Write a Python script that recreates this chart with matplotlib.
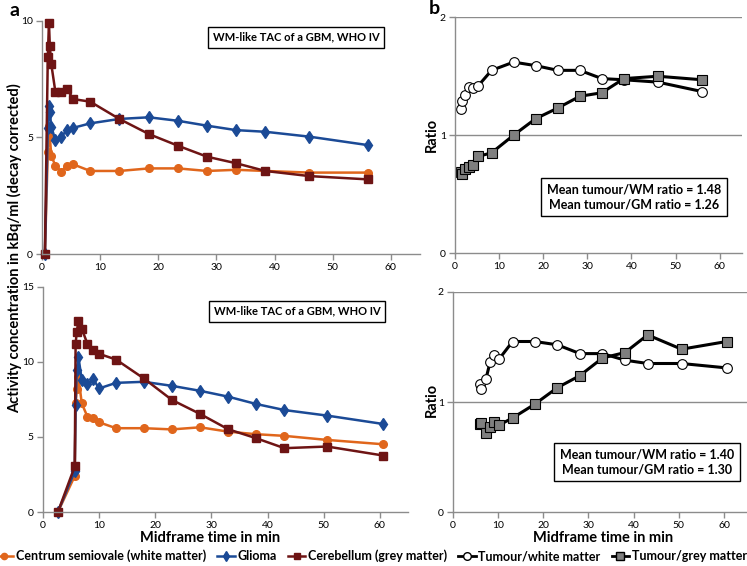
import matplotlib
matplotlib.use("Agg")
import matplotlib.pyplot as plt
from matplotlib.lines import Line2D

plt.rcParams['font.family'] = ['Lato', 'DejaVu Sans']

# top row (panel a / b, first patient)
time_top = [0.5, 1.0, 1.2, 1.35, 1.6, 2.3, 3.3, 4.3, 5.4, 8.3, 13.3, 18.4, 23.4, 28.4, 33.4, 38.4, 46.0, 56.0]
wm_top = [0, 4.36, 5.49, 5.03, 4.21, 3.79, 3.53, 3.79, 3.84, 3.56, 3.56, 3.67, 3.67, 3.56, 3.61, 3.56, 3.49, 3.49]
glioma_top = [0, 5.40, 6.36, 6.10, 5.45, 4.89, 5.03, 5.31, 5.41, 5.60, 5.79, 5.86, 5.71, 5.50, 5.31, 5.24, 5.03, 4.67]
gm_top = [0, 8.46, 9.91, 8.91, 8.14, 6.96, 6.96, 7.06, 6.64, 6.53, 5.79, 5.14, 4.64, 4.17, 3.89, 3.56, 3.34, 3.20]

ratio_time_top = [1.3, 1.5, 2.3, 3.2, 4.2, 5.3, 8.3, 13.3, 18.3, 23.3, 28.3, 33.3, 38.3, 46.0, 56.0]
t_wm_top = [1.22, 1.29, 1.34, 1.41, 1.40, 1.42, 1.55, 1.62, 1.59, 1.55, 1.55, 1.48, 1.47, 1.45, 1.37]
t_gm_top = [0.69, 0.67, 0.71, 0.73, 0.75, 0.82, 0.85, 1.00, 1.14, 1.23, 1.33, 1.36, 1.48, 1.50, 1.47]

# bottom row (second patient)
time_bot = [2.7, 5.7, 5.85, 6.05, 6.35, 6.95, 7.95, 9.0, 10.05, 13.05, 18.0, 23.0, 28.0, 33.0, 38.0, 43.0, 50.6, 60.6]
wm_bot = [0, 2.40, 7.23, 8.16, 9.00, 7.23, 6.35, 6.24, 5.97, 5.58, 5.58, 5.50, 5.64, 5.35, 5.18, 5.07, 4.80, 4.51]
glioma_bot = [0, 2.73, 7.10, 9.45, 10.33, 8.78, 8.50, 8.83, 8.23, 8.60, 8.67, 8.40, 8.07, 7.68, 7.19, 6.79, 6.42, 5.86]
gm_bot = [0, 3.04, 11.20, 11.97, 12.75, 12.20, 11.20, 10.80, 10.53, 10.15, 8.89, 7.46, 6.53, 5.51, 4.91, 4.25, 4.36, 3.76]

ratio_time_bot = [6.0, 6.3, 7.3, 8.2, 9.1, 10.2, 13.2, 18.1, 23.1, 28.1, 33.1, 38.1, 43.1, 50.6, 60.6]
t_wm_bot = [1.16, 1.12, 1.21, 1.36, 1.43, 1.39, 1.55, 1.55, 1.52, 1.44, 1.44, 1.38, 1.35, 1.35, 1.31]
t_gm_bot = [0.80, 0.81, 0.72, 0.77, 0.82, 0.79, 0.855, 0.98, 1.13, 1.24, 1.40, 1.45, 1.61, 1.48, 1.55]

tac_title = "WM-like TAC of a GBM, WHO IV"
ratio_text_top = "Mean tumour/WM ratio = 1.48\nMean tumour/GM ratio = 1.26"
ratio_text_bot = "Mean tumour/WM ratio = 1.40\nMean tumour/GM ratio = 1.30"

ORANGE = '#E0661C'
BLUE = '#1B4A96'
DARKRED = '#6E1414'
AXIS_GREY = '#8C8C8C'


def style_axes(ax, ymax, yticks):
    ax.set_xlim(0, 65)
    ax.set_ylim(0, ymax)
    ax.set_xticks(range(0, 61, 10))
    ax.set_yticks(yticks)
    for side in ('top', 'right'):
        ax.spines[side].set_visible(False)
    for side in ('left', 'bottom'):
        ax.spines[side].set_color(AXIS_GREY)
        ax.spines[side].set_linewidth(1.0)
    ax.tick_params(direction='out', length=4, width=1, color=AXIS_GREY,
                   labelsize=7.5, pad=2.5)


def plot_tac(ax, t, wm, gl, gm, ymax, yticks):
    ax.plot(t, wm, color=ORANGE, lw=1.8, marker='o', ms=5.5, clip_on=False)
    ax.plot(t, gl, color=BLUE, lw=1.8, marker='d', ms=6, clip_on=False)
    ax.plot(t, gm, color=DARKRED, lw=1.8, marker='s', ms=6, clip_on=False)
    style_axes(ax, ymax, yticks)


def plot_ratio(ax, t, r_wm, r_gm):
    for y in (1, 2):
        ax.axhline(y, color=AXIS_GREY, lw=1, zorder=0)
    ax.plot(t, r_wm, color='black', lw=2.2, marker='o', ms=7,
            mfc='white', mec='black', mew=0.8)
    ax.plot(t, r_gm, color='black', lw=2.2, marker='s', ms=7,
            mfc='#7F7F7F', mec='black', mew=0.8)
    style_axes(ax, 2, [0, 1, 2])


fig = plt.figure(figsize=(7.47, 5.66), dpi=100)

ax_tl = fig.add_axes([0.0562, 0.5512, 0.506, 0.4122])
ax_bl = fig.add_axes([0.0572, 0.0954, 0.489, 0.398])
ax_tr = fig.add_axes([0.609, 0.553, 0.384, 0.4164])
ax_br = fig.add_axes([0.6064, 0.0954, 0.393, 0.3887])

plot_tac(ax_tl, time_top, wm_top, glioma_top, gm_top, 10, [0, 5, 10])
plot_tac(ax_bl, time_bot, wm_bot, glioma_bot, gm_bot, 15, [0, 5, 10, 15])
plot_ratio(ax_tr, ratio_time_top, t_wm_top, t_gm_top)
plot_ratio(ax_br, ratio_time_bot, t_wm_bot, t_gm_bot)

box = dict(boxstyle='square,pad=0.45', fc='white', ec='black', lw=1)
fig.text(296 / 747, 1 - 37 / 566, tac_title, ha='center', va='center',
         fontsize=8, fontweight='bold', bbox=box)
fig.text(297 / 747, 1 - 311 / 566, tac_title, ha='center', va='center',
         fontsize=8, fontweight='bold', bbox=box)
fig.text(634 / 747, 1 - 197 / 566, ratio_text_top, ha='center', va='center',
         fontsize=9, fontweight='bold', linespacing=1.3, bbox=box)
fig.text(647 / 747, 1 - 462 / 566, ratio_text_bot, ha='center', va='center',
         fontsize=9, fontweight='bold', linespacing=1.3, bbox=box)

fig.text(15 / 747, 1 - 10 / 566, "a", ha='center', va='center',
         fontsize=14, fontweight='bold')
fig.text(434 / 747, 1 - 8 / 566, "b", ha='center', va='center',
         fontsize=14, fontweight='bold')

fig.text(15 / 747, 1 - 248 / 566, "Activity concentration in kBq/ml (decay corrected)",
         rotation=90, ha='center', va='center', fontsize=10.5, fontweight='bold')
fig.text(432 / 747, 1 - 135 / 566, "Ratio", rotation=90, ha='center', va='center',
         fontsize=10.5, fontweight='bold')
fig.text(432 / 747, 1 - 400 / 566, "Ratio", rotation=90, ha='center', va='center',
         fontsize=10.5, fontweight='bold')

fig.text(210 / 747, 1 - 538 / 566, "Midframe time in min", ha='center', va='center',
         fontsize=10.5, fontweight='bold')
fig.text(603 / 747, 1 - 538 / 566, "Midframe time in min", ha='center', va='center',
         fontsize=10.5, fontweight='bold')

handles = [
    Line2D([], [], color=ORANGE, lw=1.8, marker='o', ms=4.5),
    Line2D([], [], color=BLUE, lw=1.8, marker='d', ms=5),
    Line2D([], [], color=DARKRED, lw=1.8, marker='s', ms=5),
    Line2D([], [], color='black', lw=2, marker='o', ms=5.5, mfc='white', mec='black'),
    Line2D([], [], color='black', lw=2, marker='s', ms=5.5, mfc='#7F7F7F', mec='black'),
]
labels = ["Centrum semiovale (white matter)", "Glioma", "Cerebellum (grey matter)",
          "Tumour/white matter", "Tumour/grey matter"]
fig.legend(handles, labels, loc='center', bbox_to_anchor=(0.497, 1 - 556 / 566),
           ncol=5, frameon=False, handlelength=1.4, handletextpad=0.2,
           columnspacing=0.9, borderpad=0.1,
           prop={'size': 9, 'weight': 'bold'})

fig.savefig("out.png", dpi=100)
